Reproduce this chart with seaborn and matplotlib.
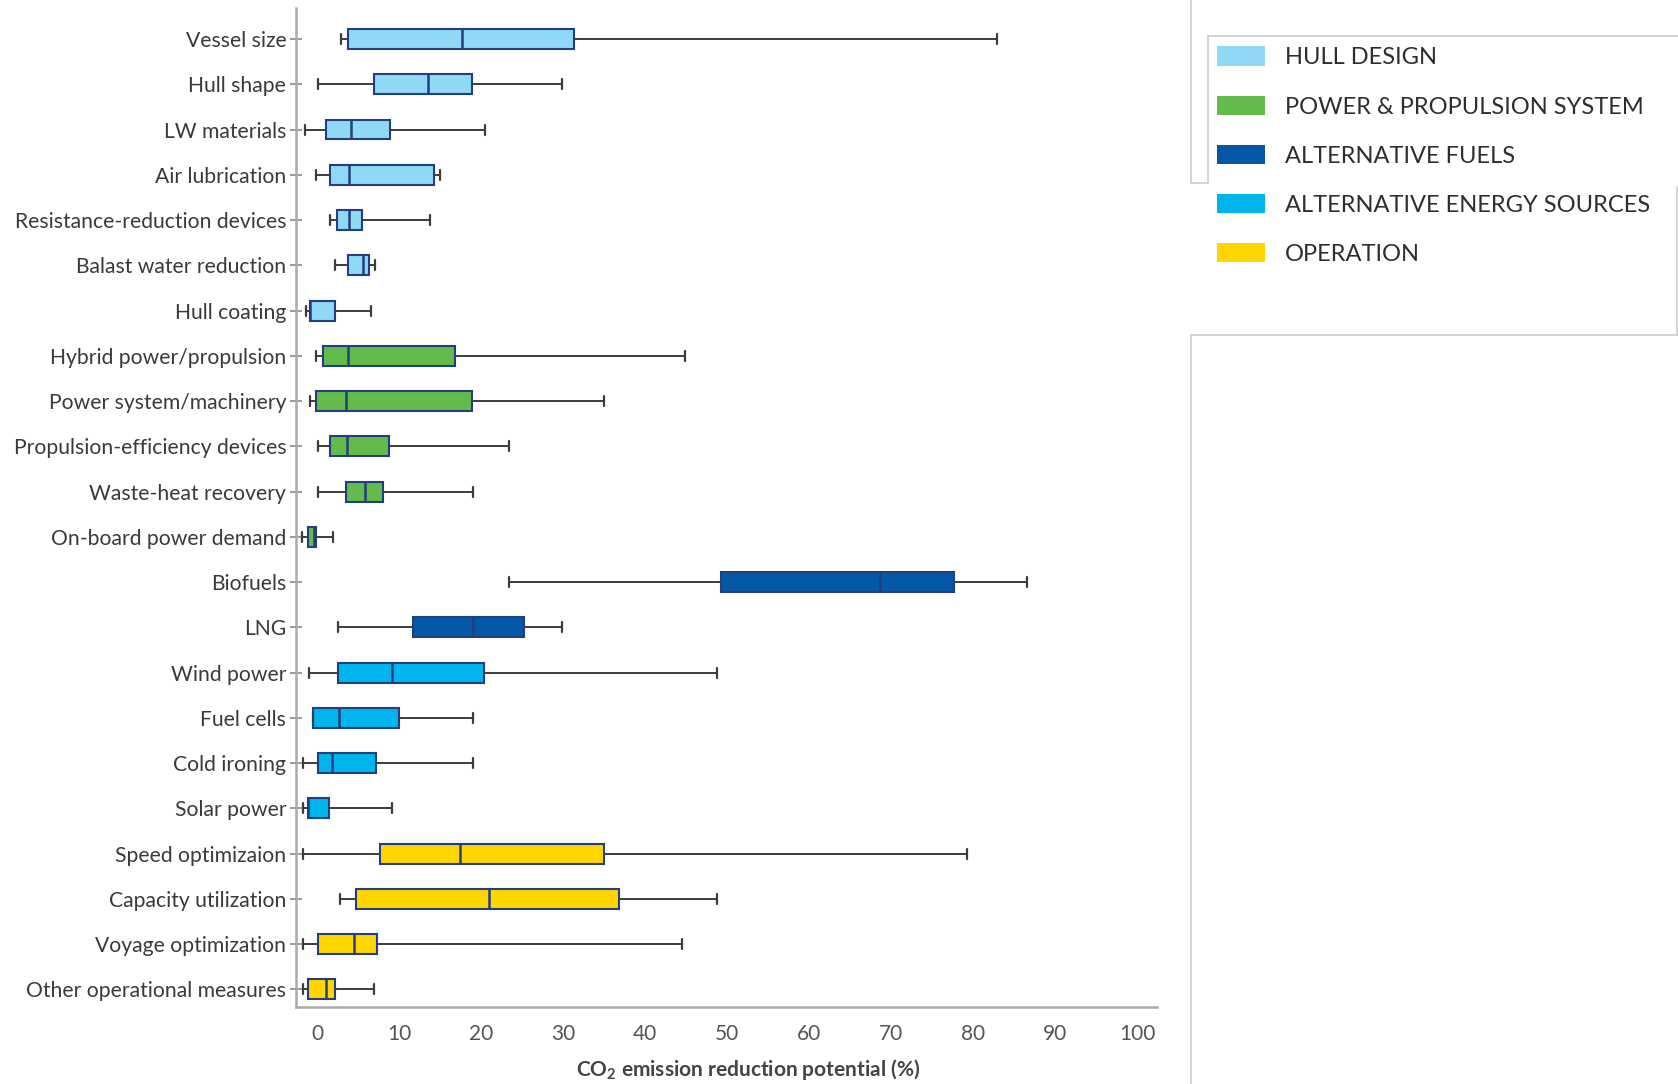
import pandas as pd
import seaborn as sns
import matplotlib.pyplot as plt
from matplotlib.patches import Patch
from matplotlib.lines import Line2D
from matplotlib.transforms import ScaledTranslation

# measures, top to bottom
measures = ['Vessel size', 'Hull shape', 'LW materials', 'Air lubrication',
            'Resistance-reduction devices', 'Balast water reduction', 'Hull coating',
            'Hybrid power/propulsion', 'Power system/machinery', 'Propulsion-efficiency devices',
            'Waste-heat recovery', 'On-board power demand',
            'Biofuels', 'LNG',
            'Wind power', 'Fuel cells', 'Cold ironing', 'Solar power',
            'Speed optimizaion', 'Capacity utilization', 'Voyage optimization',
            'Other operational measures']
groups = ['HULL DESIGN'] * 7 + ['POWER & PROPULSION SYSTEM'] * 5 + \
         ['ALTERNATIVE FUELS'] * 2 + ['ALTERNATIVE ENERGY SOURCES'] * 4 + ['OPERATION'] * 4

# five-number summaries (%)
lows = [4.0, 1.2, -0.45, 1.0, 2.6, 3.3, -0.25, 1.0, 0.15, 1.2, 1.2, -0.8,
        24.5, 3.6, 0.05, 0.55, -0.65, -0.65, -0.65, 3.9, -0.65, -0.65]
q1s = [4.9, 8.0, 2.2, 2.7, 3.5, 4.9, 0.15, 1.8, 1.0, 2.6, 4.6, -0.05,
       50.3, 12.8, 3.6, 0.55, 1.2, -0.05, 8.8, 5.8, 1.2, -0.05]
medians = [18.7, 14.6, 5.2, 5.0, 5.0, 6.7, 0.15, 4.8, 4.6, 4.7, 6.9, 0.7,
           69.7, 20.1, 10.2, 3.8, 2.9, -0.05, 18.5, 22.0, 5.6, 2.2]
q3s = [32.4, 20.0, 10.0, 15.3, 6.5, 7.4, 3.2, 17.9, 20.0, 9.8, 9.1, 1.0,
       78.8, 26.3, 21.4, 11.1, 8.2, 2.5, 36.1, 37.9, 8.4, 3.3]
highs = [84.0, 30.9, 21.5, 16.1, 14.8, 8.1, 7.7, 46.0, 36.1, 24.5, 20.1, 3.0,
         87.6, 30.9, 49.8, 20.1, 20.1, 10.2, 80.3, 49.8, 45.6, 8.0]

palette = {'HULL DESIGN': '#8fd9f6',
           'POWER & PROPULSION SYSTEM': '#62bb4b',
           'ALTERNATIVE FUELS': '#0558a8',
           'ALTERNATIVE ENERGY SOURCES': '#00b5ee',
           'OPERATION': '#ffd600'}

rows = []
for m, g, a, b, c, d, e in zip(measures, groups, lows, q1s, medians, q3s, highs):
    for v in (a, b, c, d, e):
        rows.append({'measure': m, 'group': g, 'value': v})
df = pd.DataFrame(rows)

sns.set_style('white')
plt.rcParams['font.family'] = ['Lato', 'DejaVu Sans']

fig = plt.figure(figsize=(16.78, 10.84), dpi=100)
ax = fig.add_axes([0.1764, 0.071, 0.5131, 0.9216])

ax.set_xticks([20, 40, 60, 80, 100], minor=True)
ax.grid(True, which='minor', axis='x', color='#a8a2a2', linewidth=1.5)
ax.grid(False, which='major')
ax.set_axisbelow(True)

sns.boxplot(data=df, x='value', y='measure', hue='group', order=measures,
            palette=palette, dodge=False, whis=(0, 100), width=0.44,
            showfliers=False, legend=False, ax=ax, saturation=1,
            boxprops={'edgecolor': '#233f7e', 'linewidth': 1.5},
            medianprops={'color': '#233f7e', 'linewidth': 1.8},
            whiskerprops={'color': '#3c3c3c', 'linewidth': 1.4},
            capprops={'color': '#3c3c3c', 'linewidth': 1.6})

ax.set_xlim(-1.5, 103.5)
ax.set_ylim(len(measures) - 1 + 0.39, -0.685)
ax.set_xticks(range(0, 101, 10))
ax.tick_params(axis='x', which='both', length=0, pad=12, labelsize=15, labelcolor='#555555')
ax.tick_params(axis='y', length=8, direction='inout', width=1.2, color='#8a8a8a',
               pad=3, labelsize=15.2, labelcolor='#3a3a3a', left=True)
shift = ScaledTranslation(9 / 100, 0, fig.dpi_scale_trans)
for lab in ax.get_xticklabels():
    lab.set_transform(lab.get_transform() + shift)
for s in ['top', 'right']:
    ax.spines[s].set_visible(False)
for s in ['left', 'bottom']:
    ax.spines[s].set_color('#aaaaaa')
    ax.spines[s].set_linewidth(1.8)
ax.set_ylabel('')
ax.set_xlabel(r'CO$_\mathregular{2}$ emission reduction potential (%)',
              fontsize=15, fontweight='bold', color='#444444', va='center')
ax.xaxis.set_label_coords(0.5 + 22 / 861, -0.063)

handles = [Patch(facecolor=palette[g], edgecolor='none', label=g) for g in palette]
fig.legend(handles=handles, loc='upper left', bbox_to_anchor=(0.7185, 0.968),
           frameon=False, fontsize=17, handlelength=2.0, handleheight=0.9,
           handletextpad=0.85, labelspacing=1.15, borderpad=0, labelcolor='#2e2e2e')

# stray frame lines around the legend area
W, H = 1678, 1084
frame = [((1191, 0), (1191, 183)), ((1191, 183), (1208, 183)), ((1208, 183), (1208, 36)),
         ((1208, 36), (1678, 36)), ((1677, 187), (1677, 335)), ((1191, 335), (1677, 335)),
         ((1191, 335), (1191, 1084))]
for (x0, y0), (x1, y1) in frame:
    fig.add_artist(Line2D([x0 / W, x1 / W], [1 - y0 / H, 1 - y1 / H],
                          transform=fig.transFigure, color='#cccccc', linewidth=1.2))

fig.savefig('out.png', dpi=100)
